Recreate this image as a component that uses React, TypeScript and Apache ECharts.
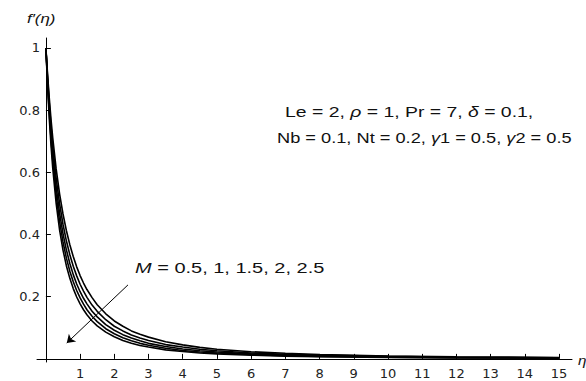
import React, { useEffect, useRef } from "react";
import * as echarts from "echarts";

const eta = [0, 0.05, 0.1, 0.15, 0.2, 0.3, 0.4, 0.5, 0.6, 0.7, 0.8, 0.9, 1.0, 1.1, 1.2, 1.35, 1.5, 1.75, 2, 2.25, 2.5, 2.75, 3, 3.5, 4, 4.5, 5, 6, 7, 8, 10, 12, 15];
const fM05 = [1, 0.913, 0.837, 0.77, 0.711, 0.611, 0.531, 0.466, 0.412, 0.367, 0.329, 0.296, 0.268, 0.244, 0.223, 0.197, 0.174, 0.145, 0.122, 0.105, 0.09, 0.079, 0.07, 0.055, 0.045, 0.037, 0.031, 0.023, 0.018, 0.014, 0.0094, 0.0068, 0.0045];
const fM10 = [1, 0.904, 0.82, 0.748, 0.685, 0.581, 0.499, 0.433, 0.379, 0.335, 0.298, 0.267, 0.24, 0.218, 0.198, 0.173, 0.153, 0.126, 0.105, 0.09, 0.077, 0.067, 0.059, 0.046, 0.038, 0.031, 0.026, 0.019, 0.015, 0.012, 0.008, 0.0055, 0.0036];
const fM15 = [1, 0.894, 0.804, 0.727, 0.661, 0.553, 0.469, 0.403, 0.35, 0.307, 0.271, 0.241, 0.216, 0.195, 0.177, 0.153, 0.135, 0.11, 0.092, 0.078, 0.067, 0.058, 0.05, 0.04, 0.032, 0.026, 0.022, 0.016, 0.012, 0.0096, 0.0064, 0.0046, 0.003];
const fM20 = [1, 0.885, 0.789, 0.707, 0.638, 0.527, 0.442, 0.376, 0.324, 0.282, 0.248, 0.22, 0.196, 0.176, 0.158, 0.137, 0.12, 0.097, 0.081, 0.068, 0.058, 0.05, 0.044, 0.034, 0.027, 0.022, 0.019, 0.014, 0.01, 0.0081, 0.0054, 0.0038, 0.0025];
const fM25 = [1, 0.875, 0.772, 0.686, 0.614, 0.5, 0.415, 0.35, 0.299, 0.259, 0.226, 0.199, 0.177, 0.158, 0.142, 0.122, 0.106, 0.086, 0.071, 0.059, 0.05, 0.043, 0.038, 0.029, 0.024, 0.019, 0.016, 0.012, 0.0088, 0.0069, 0.0046, 0.0032, 0.0021];
const seriesNames = ["M = 0.5", "M = 1", "M = 1.5", "M = 2", "M = 2.5"];
const seriesValues = [fM05, fM10, fM15, fM20, fM25];

const xTicks = [1, 2, 3, 4, 5, 6, 7, 8, 9, 10, 11, 12, 13, 14, 15];
const yTicks = [0.2, 0.4, 0.6, 0.8, 1];

// arrow annotation (data coordinates): start, end
const arrowFrom = [2.4, 0.238];
const arrowTo = [0.61, 0.051];

const yName = "f\u2032(\u03b7)";
const xName = "\u03b7";
const paramLine1 = "Le = 2, {i|\u03c1} = 1, Pr = 7, {i|\u03b4} = 0.1,";
const paramLine2 = "Nb = 0.1, Nt = 0.2, {i|\u03b3}1 = 0.5, {i|\u03b3}2 = 0.5";
const mLabel = "{i|M} = 0.5, 1, 1.5, 2, 2.5";

const FONT = "'Liberation Sans', Arial, sans-serif";
const TICKFONT = "'DejaVu Sans', sans-serif";

export default function App() {
  const ref = useRef<HTMLDivElement>(null);
  useEffect(() => {
    if (!ref.current) return;
    const chart = echarts.init(ref.current, null, { renderer: "svg" });
    const series: any[] = seriesValues.map((vals, i) => ({
      name: seriesNames[i],
      type: "line",
      data: eta.map((x, j) => [x, vals[j]]),
      showSymbol: false,
      smooth: false,
      lineStyle: { color: "#000", width: 1.6 },
      z: 3,
    }));
    series[0].markLine = {
      silent: true,
      symbol: ["none", "arrow"],
      symbolSize: 8,
      label: { show: false },
      lineStyle: { color: "#000", width: 1, type: "solid" },
      data: [[{ coord: arrowFrom }, { coord: arrowTo }]],
    };
    const txt = (x: number, y: number, text: string, size: number, italic: boolean, sx: number) => ({
      type: "text",
      x,
      y,
      scaleX: sx,
      style: {
        text,
        font: `${italic ? "italic " : ""}${size}px ${FONT}`,
        fill: "#111",
        textAlign: "left",
        textVerticalAlign: "middle",
        rich: { i: { fontStyle: "italic", fontSize: size, fontFamily: FONT, fill: "#111" } },
      },
    });
    const option: any = {
      animation: false,
      backgroundColor: "#fff",
      grid: { left: 37, right: 14, top: 38, bottom: 19, containLabel: false },
      xAxis: {
        type: "value",
        min: -0.26,
        max: 15.38,
        axisLine: { onZero: true, lineStyle: { color: "#000", width: 1 } },
        axisTick: { show: true, inside: true, length: 5, customValues: xTicks, lineStyle: { color: "#000" } },
        axisLabel: {
          customValues: xTicks,
          margin: 5,
          color: "#222",
          fontSize: 13,
          fontFamily: TICKFONT,
        },
        splitLine: { show: false },
      },
      yAxis: {
        type: "value",
        min: -0.01,
        max: 1.032,
        axisLine: { show: true, onZero: true, lineStyle: { color: "#000", width: 1 } },
        axisTick: { show: true, inside: true, length: 5, customValues: yTicks, lineStyle: { color: "#000" } },
        axisLabel: {
          customValues: yTicks,
          margin: -3,
          color: "#222",
          fontSize: 13,
          fontFamily: TICKFONT,
        },
        splitLine: { show: false },
      },
      series,
      graphic: [
        txt(27, 18, yName, 13, true, 1.3),
        txt(578, 361, xName, 12, true, 1.27),
        txt(285, 112, paramLine1, 14.7, false, 1.32),
        txt(277, 138, paramLine2, 14.7, false, 1.24),
        txt(135, 268, mLabel, 14.7, false, 1.36),
      ],
    };
    chart.setOption(option);
    return () => chart.dispose();
  }, []);
  return (
    <div
      ref={ref}
      style={{ position: "fixed", left: 0, top: 0, width: 586, height: 381, background: "#fff" }}
    />
  );
}
